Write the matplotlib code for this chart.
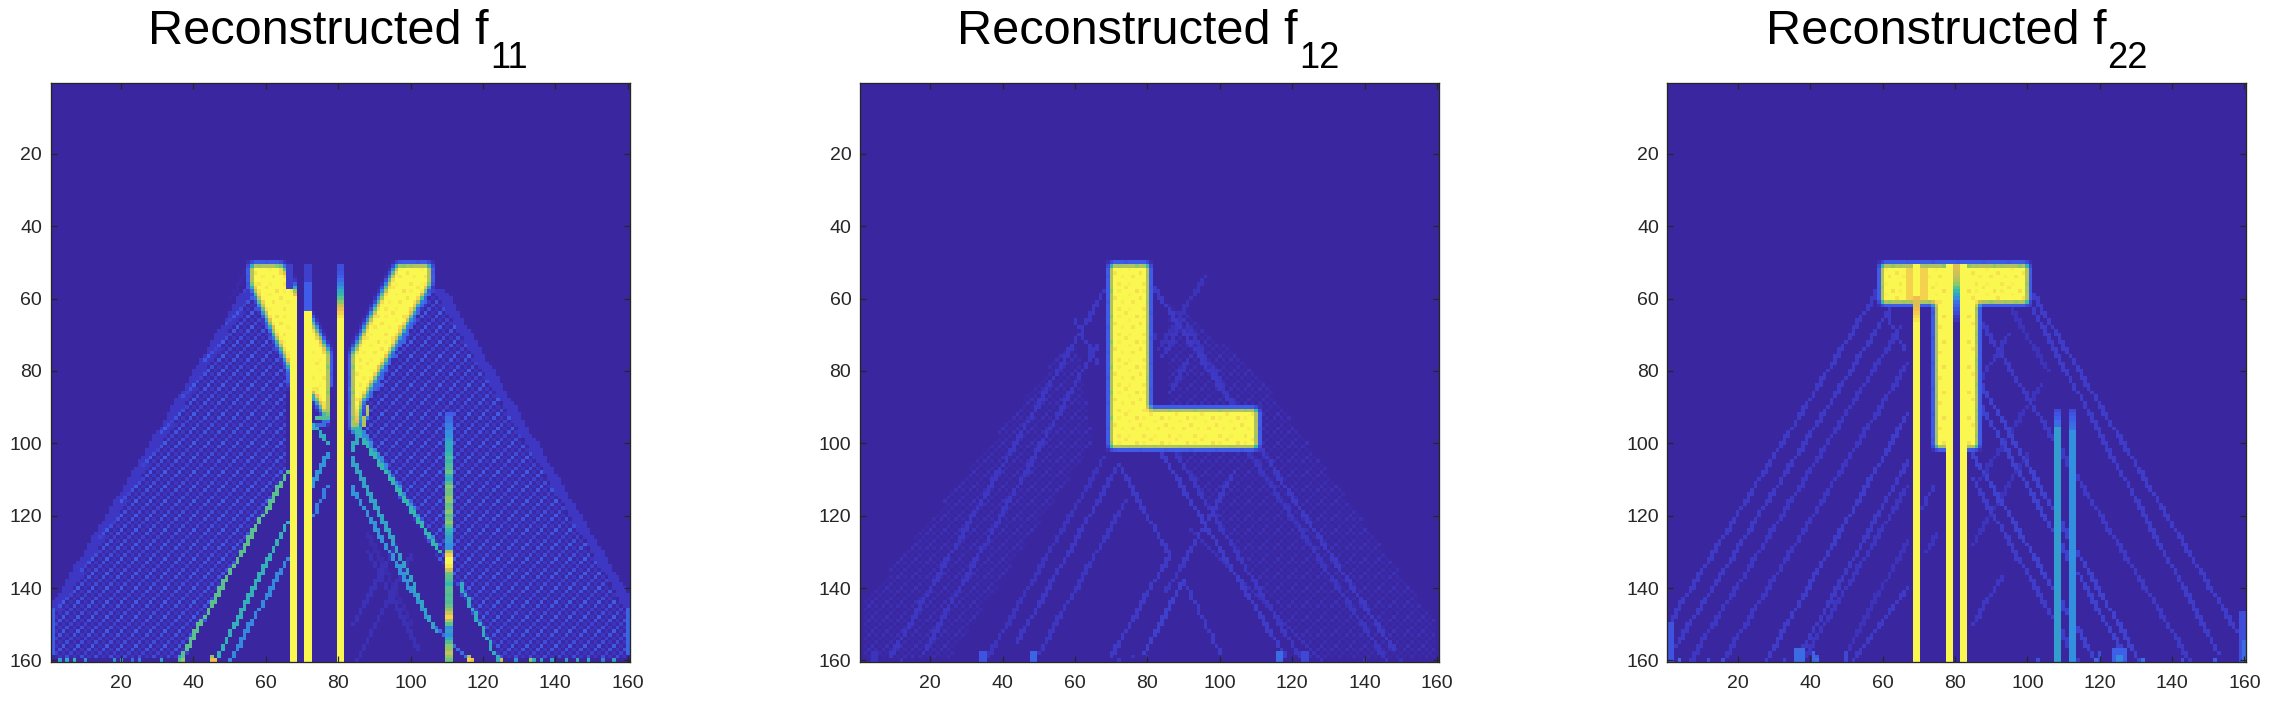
import numpy as np
import matplotlib
matplotlib.use("Agg")
import matplotlib.pyplot as plt
from matplotlib.colors import LinearSegmentedColormap
from matplotlib.path import Path

plt.rcParams['font.family'] = ['Liberation Sans', 'DejaVu Sans']

N = 160
W, H = 2274, 712
INK = '#262626'

tick_values = [20, 40, 60, 80, 100, 120, 140, 160]
titles = ['Reconstructed f', 'Reconstructed f', 'Reconstructed f']
subscripts = ['11', '12', '22']

cmap_stops = [(0, '#3A27A0'), (.12, '#3E38C4'), (.25, '#3F5CE8'), (.4, '#3390DE'),
              (.55, '#33B8B0'), (.7, '#8CC868'), (.85, '#F0BE4E'), (1, '#FAF850')]

# repeating cell patterns
checker_strong = [[.12, .02, .22, .03], [.03, .16, .03, .1], [.2, .03, .11, .03], [.02, .1, .03, .25]]
checker_faint = [[.05, .0, .07, .0], [.0, .04, .0, .03], [.06, .0, .03, .0], [.0, .03, .0, .08]]
speckle = [[1, 1, 1, .95, 1, 1, 1], [1, .97, 1, 1, 1, 1, .93], [1, 1, 1, 1, .98, 1, 1],
           [.94, 1, 1, 1, 1, 1, 1], [1, 1, .97, 1, 1, .95, 1], [1, 1, 1, 1, 1, 1, 1], [1, .95, 1, 1, .98, 1, 1]]

# ---- f11: polygons are (col, row) corners, lines are col0,row0,col1,row1,value,width
f11_shapes = [
    [(55.5, 50.5), (64.5, 50.5), (77.5, 75), (77.5, 95), (72.5, 86), (66.5, 84), (66.5, 80), (55.5, 56)],
    [(96, 50.5), (105.5, 50.5), (105.5, 56), (86.5, 89), (85.5, 96), (83.5, 97), (83.5, 75.5)],
]
f11_texture = [
    [(55, 56), (1, 148), (1, 160), (37, 160), (66, 108), (66, 80)],
    [(106, 57), (160, 148), (160, 160), (125, 160), (85, 96), (88, 90)],
]
f11_lines = [
    (54, 58, .5, 146, .12, 3), (107, 58, 160, 146, .12, 3),
    (66, 108, 36, 160, .62, 1), (66, 122, 46, 160, .52, 1), (66, 132, 50, 160, .38, 1),
    (77, 103, 72.5, 112, .42, 1), (77, 112, 73, 120, .35, 1),
    (85, 96, 107.5, 129.5, .55, 1), (86, 96, 108, 130, .38, 1), (113.5, 139, 124, 160, .5, 1),
    (83.5, 103.5, 107, 152.5, .48, 1), (83.5, 112, 105, 149, .42, 1), (105, 149, 116, 160, .3, 1),
    (60, 64, 66.5, 78, .5, 1), (58, 60, 65, 74, .3, 1),
    (72.5, 69, 77, 76, .5, 1), (73, 67, 77, 74, .3, 1), (73, 87, 77, 93, .45, 1), (73, 95, 77, 100, .5, 1),
    (74, 93, 77, 93, .6, 1), (73, 96, 80, 93, .3, 1), (76, 88, 80, 85, .3, 1), (83, 85, 86, 88, .3, 1),
    (83, 97, 88, 93, .35, 1), (84, 102, 86, 96, .5, 1),
    (103.7, 57.8, 87.7, 86.6, .45, 1), (104.7, 59, 88, 88, .28, 1), (88, 90, 87, 95, .75, 1),
    (84, 76, 90, 66, .6, 1), (85, 76, 91, 66, .3, 1),
    (100, 131, 85, 160, .07, 1), (88, 125, 100, 150, .05, 1), (84, 150, 96, 128, .08, 1),
    (88, 130, 102, 157, .07, 1), (73, 138, 79, 128, .05, 1), (83, 84, 92, 66, .05, 2),
    (72, 160, 80, 146, .07, 1), (56, 50, 50, 60, .03, 1),
]
# col0, col1, row0, row1, value
f11_bars = [
    (69, 70, 51, 160, 0), (78, 79, 85, 160, 0), (82, 83, 97, 160, 0),
    (73, 79, 121, 160, 0),
    (67, 68, 60, 160, 1), (71, 72, 64, 160, 1), (80, 81, 66, 160, 1),
    (66, 67, 51, 57, .15), (71, 72, 51, 55, .15), (71, 72, 56, 63, .25),
    (1, 1, 146, 158, .25), (160, 160, 146, 158, .28),
]
# col0, col1, first row, value per row
f11_fades = [
    (80, 81, 51, [.2, .2, .22, .25, .3, .35, .42, .5, .55, .62, .7, .78, .85, .9, .95]),
    (110, 111, 92, [.25, .3, .3, .35, .35, .4, .4, .45, .5, .5, .5, .55, .6, .55, .6, .6, .65, .55, .5, .6, .7, .65,
                    .65, .7, .7, .62, .65, .7, .6, .65, .7, .62, .55, .5, .45, .45, .4, .4, .75, .9, 1, 1, .95, .8, .65,
                    .62, .6, .55, .62, .62, .6, .62, .6, .65, .7, .8, .9, .75, .62, .4, .45, .4, .5, .6, .7, .7, .78,
                    .7, .65]),
]
# row, column, value for single cells along the lower border
f11_cells = [
    (160, 3, .45), (160, 5, .5), (160, 7, .55), (160, 10, .4), (160, 18, .4), (160, 20, .45), (160, 23, .3),
    (160, 25, .35), (160, 31, .45), (160, 36, .6), (159, 36, .45), (160, 37, .7), (160, 45, .85), (159, 45, .7),
    (160, 46, .85), (160, 116, .9), (159, 116, .75), (160, 117, .85), (160, 125, .8), (160, 129, .4), (160, 133, .7),
    (160, 134, .5), (160, 136, .45), (160, 139, .45), (160, 143, .45), (160, 146, .5), (160, 149, .5), (160, 153, .35),
    (160, 156, .45),
]

# ---- f12
f12_shapes = [
    [(69.5, 50.5), (80.5, 50.5), (80.5, 90.5), (110.5, 90.5), (110.5, 101.5), (69.5, 101.5)],
]
f12_texture = [
    [(60, 70), (1, 145), (1, 160), (25, 160), (65, 100)],
    [(85, 60), (110, 80), (160, 150), (160, 160), (125, 160), (85, 100)],
]
f12_lines = [
    (68, 58, 9, 159, .12, 1), (66, 73, 18, 158, .12, 1), (68, 104, 36, 159, .1, 1), (72, 106, 44, 155, .12, 1),
    (74, 116, 50, 158, .11, 1), (72, 106, 86, 131, .13, 1), (86, 131, 70, 159, .13, 1), (90, 138, 79, 158, .15, 1),
    (90, 138, 100, 158, .13, 1), (81, 56, 148, 157, .13, 1), (90, 66, 110, 100, .11, 1), (84, 76, 90, 66, .11, 1),
    (96, 54, 83, 74, .09, 1), (92, 76, 86, 86, .11, 1), (84, 103, 118, 159, .14, 1), (88, 103, 122, 159, .12, 1),
    (104, 108, 90, 133, .13, 1), (90, 133, 85, 141, .11, 1), (92, 124, 128, 160, .09, 1), (107, 101, 146, 160, .11, 1),
    (60, 66, 66, 78, .12, 1), (78, 80, 82, 70, .09, 1),
]
f12_bars = [
    (34, 35, 158, 160, .22), (48, 49, 158, 160, .28), (116, 117, 158, 160, .3),
    (123, 124, 158, 160, .18), (4, 5, 158, 160, .1),
]
f12_fades = []
f12_cells = [(160, 72, .12), (159, 76, .1), (159, 80, .08), (160, 12, .1), (159, 15, .08), (160, 140, .09), (160, 150, .08)]

# ---- f22
f22_shapes = [
    [(59.5, 50.5), (100.5, 50.5), (100.5, 61.5), (86.5, 61.5), (86.5, 101.5), (74.5, 101.5), (74.5, 61.5), (59.5, 61.5)],
]
f22_texture = []
f22_lines = [
    (60, 56, 1, 150, .13, 1), (62, 63, 3, 156, .13, 1), (65, 68, 7, 160, .12, 1), (67, 78, 16, 160, .12, 1),
    (67, 92, 28, 160, .14, 1), (67, 105, 37, 159, .13, 1), (67, 112, 38, 160, .11, 1), (67, 140, 52, 160, .13, 1),
    (61, 64, 66, 74, .13, 1), (67, 127, 50, 158, .09, 1),
    (101, 58, 158, 152, .14, 1), (101, 62, 153, 158, .14, 1), (87, 66, 145, 160, .13, 1), (87, 83, 131, 160, .16, 1),
    (87, 89, 126, 157, .16, 1), (85, 103, 119, 160, .16, 1), (85, 110, 114, 160, .14, 1), (95, 70, 87, 83, .11, 1),
    (87, 110, 104, 84, .1, 1), (85, 128, 100, 103, .1, 1), (85, 150, 93, 137, .12, 1),
    (74, 112, 71, 118, .12, 1), (75, 125, 72, 130, .1, 1), (95, 62, 106, 80, .09, 1),
]
f22_bars = [
    (67, 68, 52, 60, .9), (71, 72, 52, 60, .9),
    (78, 79, 51, 160, 1), (82, 83, 51, 160, 1), (69, 70, 51, 160, 1), (80, 81, 67, 160, 0),
    (108, 109, 96, 160, .45), (112, 113, 97, 160, .4),
    (1, 2, 150, 160, .22), (159, 160, 147, 160, .2), (160, 160, 155, 160, .3),
    (36, 38, 157, 160, .3), (41, 41, 158, 160, .28), (50, 50, 158, 160, .18),
    (124, 127, 157, 160, .26), (125, 126, 159, 160, .38), (120, 120, 158, 160, .2),
]
f22_fades = [
    (80, 81, 51, [.82, .82, .8, .78, .75, .7, .62, .55, .48, .4, .32, .28, .22, .18, .12, .08]),
    (108, 109, 91, [.18, .22, .25, .3, .3]),
    (112, 113, 91, [.18, .22, .25, .28, .3, .32]),
    (69, 70, 60, [.85, .82, .82, .85, .88, .92, .96]),
]
f22_cells = [
    (160, 4, .3), (160, 12, .2), (160, 16, .2), (160, 33, .15), (160, 42, .3), (159, 42, .25), (160, 132, .32),
    (160, 143, .2), (160, 152, .25), (160, 119, .3), (160, 103, .2), (160, 8, .12),
]


def coverage(verts):
    # share of each cell inside the polygon, 4 samples per side
    ss = (np.arange(N * 4) + .5) / 4 + .5
    xx, yy = np.meshgrid(ss, ss)
    inside = Path(verts).contains_points(np.c_[xx.ravel(), yy.ravel()])
    return inside.reshape(N * 4, N * 4).reshape(N, 4, N, 4).mean(axis=(1, 3))


def blur(a):
    k = np.array([.25, .5, .25])
    a = np.apply_along_axis(lambda v: np.convolve(v, k, mode='same'), 0, a)
    return np.apply_along_axis(lambda v: np.convolve(v, k, mode='same'), 1, a)


def tiled(tile):
    t = np.array(tile, dtype=float)
    return np.tile(t, (N // t.shape[0] + 1, N // t.shape[1] + 1))[:N, :N]


def build(shapes, texture, lines, bars, fades, cells, tex_tile):
    m = np.zeros((N, N))
    for verts in texture:
        m = np.where(coverage(verts) > .5, np.maximum(m, tiled(tex_tile)), m)
    for c0, r0, c1, r1, val, width in lines:
        steps = int(max(abs(c1 - c0), abs(r1 - r0))) * 2 + 1
        for t in np.linspace(0, 1, steps):
            r = int(round(r0 + t * (r1 - r0)))
            c = int(round(c0 + t * (c1 - c0)))
            for k in range(width):
                if 1 <= r <= N and 1 <= c + k <= N:
                    m[r - 1, c + k - 1] = max(m[r - 1, c + k - 1], val)
    cov = np.zeros((N, N))
    for verts in shapes:
        cov = np.maximum(cov, coverage(verts))
    if len(shapes):
        m = np.maximum(m, blur(cov) * tiled(speckle))
    for c0, c1, r0, r1, val in bars:
        m[r0 - 1:r1, c0 - 1:c1] = val
    for c0, c1, r0, vals in fades:
        for i, val in enumerate(vals):
            m[r0 - 1 + i, c0 - 1:c1] = val
    for r, c, val in cells:
        m[r - 1, c - 1] = val
    return m


panels = [
    build(f11_shapes, f11_texture, f11_lines, f11_bars, f11_fades, f11_cells, checker_strong),
    build(f12_shapes, f12_texture, f12_lines, f12_bars, f12_fades, f12_cells, checker_faint),
    build(f22_shapes, f22_texture, f22_lines, f22_bars, f22_fades, f22_cells, checker_faint),
]

axes_left = [50.5, 859.7, 1667.3]
title_x = [148, 957, 1765.5]
sub_x = [490, 1299, 2107]
ax_size = 579
ax_top = 83.3

cmap = LinearSegmentedColormap.from_list('parula_like', cmap_stops)
fig = plt.figure(figsize=(W / 100, H / 100), dpi=100)
fig.patch.set_facecolor('white')

for i, m in enumerate(panels):
    ax = fig.add_axes([axes_left[i] / W, 1 - (ax_top + ax_size) / H, ax_size / W, ax_size / H])
    ax.imshow(m, cmap=cmap, vmin=0, vmax=1, extent=(.5, N + .5, N + .5, .5), aspect='auto', interpolation='nearest')
    ax.set_xticks(tick_values)
    ax.set_yticks(tick_values)
    ax.tick_params(direction='in', length=4, width=.9, color=INK, labelcolor=INK, labelsize=14,
                   top=True, right=True, pad=9)
    ax.tick_params(axis='y', pad=6)
    for s in ax.spines.values():
        s.set_linewidth(.95)
        s.set_color(INK)
    fig.text(title_x[i] / W, 1 - 43.5 / H, titles[i], fontsize=35, color='black', ha='left', va='baseline')
    fig.text(sub_x[i] / W, 1 - 68 / H, subscripts[i], fontsize=26, color='black', ha='left', va='baseline')

fig.savefig('out.png', dpi=100)
